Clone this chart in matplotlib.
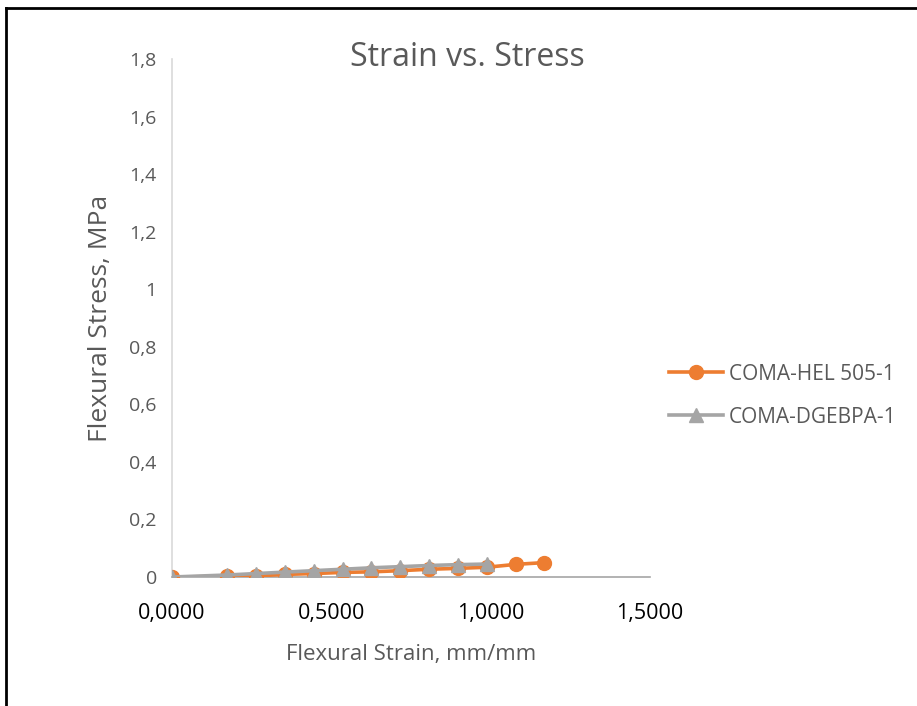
import matplotlib.pyplot as plt
from matplotlib.lines import Line2D
from matplotlib.ticker import FuncFormatter

# ============================================================
# Data
# ============================================================

hel_strain = [0.0, 0.174, 0.264, 0.354, 0.444, 0.535, 0.625, 0.716, 0.807, 0.896, 0.988, 1.079, 1.167]
hel_stress = [0.0, 0.002, 0.004, 0.009, 0.012, 0.016, 0.018, 0.022, 0.027, 0.030, 0.034, 0.044, 0.050]

dgebpa_strain = [0.0, 0.174, 0.264, 0.354, 0.444, 0.535, 0.625, 0.716, 0.807, 0.896, 0.988]
dgebpa_stress = [0.0, 0.007, 0.012, 0.017, 0.022, 0.027, 0.032, 0.036, 0.040, 0.043, 0.045]

x_ticks = [0.0, 0.5, 1.0, 1.5]
y_ticks = [0, 0.2, 0.4, 0.6, 0.8, 1.0, 1.2, 1.4, 1.6, 1.8]

ORANGE = "#ED7D31"
GRAY = "#A5A5A5"
TEXT = "#595959"

plt.rcParams["font.family"] = ["Open Sans", "DejaVu Sans"]

fig = plt.figure(figsize=(9.17, 7.06), dpi=100)
ax = fig.add_axes([0.1876, 0.1827, 0.5213, 0.7337])

ax.plot(hel_strain, hel_stress, color=ORANGE, lw=2.6, marker="o", ms=10,
        label="COMA-HEL 505-1", zorder=3)
ax.plot(dgebpa_strain, dgebpa_stress, color=GRAY, lw=2.6, marker="^", ms=10,
        label="COMA-DGEBPA-1", zorder=4)

ax.set_xlim(0, 1.5)
ax.set_ylim(0, 1.8)
ax.set_xticks(x_ticks)
ax.set_yticks(y_ticks)
ax.xaxis.set_major_formatter(FuncFormatter(lambda v, p: f"{v:.4f}".replace(".", ",")))
ax.yaxis.set_major_formatter(
    FuncFormatter(lambda v, p: "0" if v == 0 else (f"{v:g}".replace(".", ",")))
)
ax.tick_params(length=0)
ax.tick_params(axis="y", labelsize=14, colors=TEXT, pad=11)
ax.tick_params(axis="x", labelsize=15.5, colors="black", pad=19)

for side in ("top", "right"):
    ax.spines[side].set_visible(False)
ax.spines["left"].set_color("#D9D9D9")
ax.spines["left"].set_linewidth(1.2)
ax.spines["bottom"].set_color("#A6A6A6")
ax.spines["bottom"].set_linewidth(1.2)

fig.text(467 / 917, 1 - 57 / 706, "Strain vs. Stress", fontsize=23, color=TEXT,
         ha="center", va="center")
ax.set_xlabel("Flexural Strain, mm/mm", fontsize=16, color=TEXT, labelpad=14)
ax.set_ylabel("Flexural Stress, MPa", fontsize=19, color=TEXT, labelpad=12)

ax.legend(loc="center left", bbox_to_anchor=(1.0, 0.35), frameon=False,
          fontsize=15, labelcolor=TEXT, handlelength=2.6, labelspacing=1.05,
          handletextpad=0.3)

# outer border (top and left edges visible)
fig.add_artist(Line2D([6 / 917, 1.0], [1 - 8 / 706, 1 - 8 / 706],
                      transform=fig.transFigure, color="black", lw=2))
fig.add_artist(Line2D([6 / 917, 6 / 917], [0.0, 1 - 8 / 706],
                      transform=fig.transFigure, color="black", lw=2))

fig.savefig("out.png", dpi=100)
